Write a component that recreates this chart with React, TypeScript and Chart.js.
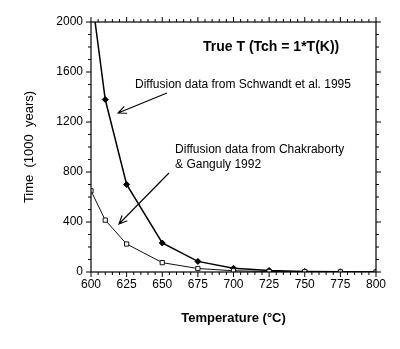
import React, { useEffect, useRef } from "react";
import { Chart, registerables } from "chart.js";

Chart.register(...registerables);

const temperatures = [600, 610, 625, 650, 675, 700, 725, 750, 775, 800];
const schwandt = [2250, 1380, 700, 232, 85, 30, 12, 5, 2, 1];
const chakrabortyT = [600, 610, 625, 650, 675, 700, 725, 750, 775, 800];
const chakraborty = [650, 415, 224, 75, 28, 10, 4, 2, 1, 0];

const xTickStep = 25;
const yTickStep = 400;
const xMinorStep = 5;
const yMinorStep = 100;

const titleText = "True T (Tch = 1*T(K))";
const schwandtLabel = ["Diffusion data from Schwandt et al. 1995"];
const chakLabel = ["Diffusion data from Chakraborty", "& Ganguly 1992"];
const xTitle = "Temperature (\u00B0C)";
const yTitle = "Time  (1000  years)";

// annotation anchors in data units
const titlePos = { x: 678.6, y: 1800 };
const schwandtTextPos = { x: 630.9, y: 1496 };
const chakTextPos = { x: 659, y: 976 };
const arrow1 = { from: { x: 653.3, y: 1432 }, to: { x: 619, y: 1272 } };
const arrow2 = { from: { x: 654.7, y: 792 }, to: { x: 619.6, y: 384 } };

const FONT = "'Liberation Sans', Arial, Helvetica, sans-serif";

const decorPlugin = {
  id: "decor",
  afterDraw(chart: any) {
    const ctx = chart.ctx;
    const xs = chart.scales.x;
    const ys = chart.scales.y;
    const a = chart.chartArea;
    ctx.save();
    ctx.strokeStyle = "#000";
    ctx.lineWidth = 1.2;
    ctx.strokeRect(a.left, a.top, a.right - a.left, a.bottom - a.top);
    // ticks
    ctx.lineWidth = 1;
    ctx.beginPath();
    for (let v = xs.min; v <= xs.max + 1e-6; v += xMinorStep) {
      const px = xs.getPixelForValue(v);
      const major = Math.abs(v % xTickStep) < 1e-6;
      const len = major ? 5 : 3;
      ctx.moveTo(px, a.bottom);
      ctx.lineTo(px, a.bottom + len);
      ctx.moveTo(px, a.top);
      ctx.lineTo(px, a.top - len);
    }
    for (let v = ys.min; v <= ys.max + 1e-6; v += yMinorStep) {
      const py = ys.getPixelForValue(v);
      const major = Math.abs(v % yTickStep) < 1e-6;
      const len = major ? 5 : 3;
      ctx.moveTo(a.left, py);
      ctx.lineTo(a.left - len, py);
      ctx.moveTo(a.right, py);
      ctx.lineTo(a.right + len, py);
    }
    ctx.stroke();

    // texts
    ctx.fillStyle = "#000";
    ctx.textBaseline = "middle";
    ctx.textAlign = "left";
    ctx.font = "bold 14px " + FONT;
    ctx.fillText(titleText, xs.getPixelForValue(titlePos.x), ys.getPixelForValue(titlePos.y));
    ctx.font = "12px " + FONT;
    schwandtLabel.forEach((t, i) => {
      ctx.fillText(t, xs.getPixelForValue(schwandtTextPos.x), ys.getPixelForValue(schwandtTextPos.y) + i * 15);
    });
    chakLabel.forEach((t, i) => {
      ctx.fillText(t, xs.getPixelForValue(chakTextPos.x), ys.getPixelForValue(chakTextPos.y) + i * 15);
    });

    // arrows
    const drawArrow = (ar: any) => {
      const x1 = xs.getPixelForValue(ar.from.x);
      const y1 = ys.getPixelForValue(ar.from.y);
      const x2 = xs.getPixelForValue(ar.to.x);
      const y2 = ys.getPixelForValue(ar.to.y);
      const ang = Math.atan2(y2 - y1, x2 - x1);
      const h = 9;
      const spread = 0.42;
      ctx.beginPath();
      ctx.moveTo(x1, y1);
      ctx.lineTo(x2, y2);
      ctx.moveTo(x2 - h * Math.cos(ang - spread), y2 - h * Math.sin(ang - spread));
      ctx.lineTo(x2, y2);
      ctx.lineTo(x2 - h * Math.cos(ang + spread), y2 - h * Math.sin(ang + spread));
      ctx.stroke();
    };
    ctx.lineWidth = 1.1;
    drawArrow(arrow1);
    drawArrow(arrow2);
    ctx.restore();
  },
};

export default function App() {
  const ref = useRef<HTMLCanvasElement>(null);
  useEffect(() => {
    if (!ref.current) return;
    const chart = new Chart(ref.current, {
      type: "line",
      data: {
        datasets: [
          {
            label: "Chakraborty & Ganguly 1992",
            data: chakrabortyT.map((t, i) => ({ x: t, y: chakraborty[i] })),
            borderColor: "#111",
            borderWidth: 1,
            pointStyle: "rect",
            pointRadius: 3,
            pointBackgroundColor: "#fff",
            pointBorderColor: "#111",
            pointBorderWidth: 1,
            tension: 0,
          },
          {
            label: "Schwandt et al. 1995",
            data: temperatures.map((t, i) => ({ x: t, y: schwandt[i] })),
            borderColor: "#000",
            borderWidth: 1.5,
            pointStyle: "rectRot",
            pointRadius: 3,
            pointBackgroundColor: "#000",
            pointBorderColor: "#000",
            pointBorderWidth: 1,
            tension: 0,
          },
        ],
      },
      options: {
        animation: false,
        responsive: true,
        maintainAspectRatio: false,
        layout: { padding: { top: 22, right: 24, left: 0, bottom: 0 } },
        plugins: { legend: { display: false }, tooltip: { enabled: false } },
        scales: {
          x: {
            type: "linear",
            min: 600,
            max: 800,
            ticks: { stepSize: xTickStep, color: "#000", font: { family: FONT, size: 12 }, padding: 5, maxRotation: 0, callback: (v: any) => String(v) },
            grid: { display: false, drawTicks: false },
            border: { display: false },
            title: { display: true, text: xTitle, color: "#000", font: { family: FONT, size: 13, weight: "bold" }, padding: { top: 0, bottom: 23 } },
            afterFit: (s: any) => { s.height = 77; },
          },
          y: {
            type: "linear",
            min: 0,
            max: 2000,
            ticks: { stepSize: yTickStep, color: "#000", font: { family: FONT, size: 12 }, padding: 8, callback: (v: any) => String(v) },
            grid: { display: false, drawTicks: false },
            border: { display: false },
            title: { display: true, text: yTitle, color: "#000", font: { family: FONT, size: 13 }, padding: { top: 22, bottom: 0 } },
            afterFit: (s: any) => { s.width = 91; },
          },
        },
      },
      plugins: [decorPlugin],
    });
    return () => chart.destroy();
  }, []);
  return (
    <div style={{ position: "fixed", left: 0, top: 0, width: 400, height: 349, background: "#fff" }}>
      <canvas ref={ref} />
    </div>
  );
}
